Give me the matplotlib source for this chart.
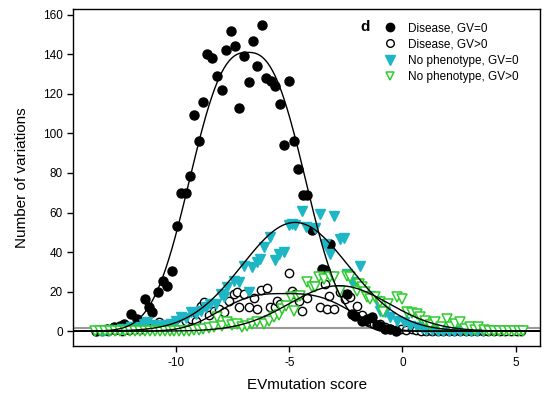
import matplotlib
matplotlib.use("Agg")
import matplotlib.pyplot as plt
from matplotlib.lines import Line2D
import numpy as np

plt.rcParams['font.family'] = ['Liberation Sans', 'DejaVu Sans']
plt.rcParams['axes.unicode_minus'] = False

# Disease, GV=0 (filled black circles)
dis0_x = [-13.55, -13.3, -13.05, -12.75, -12.5, -12.3, -11.99, -11.72, -11.4, -11.21,
          -11.06, -10.79, -10.59, -10.4, -10.2, -9.99, -9.78, -9.59, -9.4, -9.22,
          -9.0, -8.81, -8.63, -8.41, -8.22, -8.0, -7.79, -7.6, -7.41, -7.21,
          -7.02, -6.79, -6.62, -6.42, -6.2, -6.03, -5.81, -5.62, -5.43, -5.22,
          -5.01, -4.81, -4.61, -4.41, -4.22, -4.0, -3.56, -3.41, -3.19, -2.45,
          -2.23, -2.08, -1.8, -1.57, -1.35, -1.13, -0.98, -0.76, -0.54, -0.3]
dis0_y = [0, 0.5, 1, 2, 2.5, 3.5, 8.7, 6, 16.3, 12,
          9.5, 20, 25.6, 23, 30.3, 53, 70, 70, 78.3, 109.3,
          96, 116, 140, 138, 129, 122, 142, 152, 144, 113,
          139, 126, 147, 134, 155, 128, 126.5, 124, 115, 94,
          126.4, 96, 82, 69, 69, 51.3, 31.5, 30.7, 44, 18.9,
          8.7, 7.9, 5, 6.2, 7, 3, 2.8, 1, 1, 0]

# Disease, GV>0 (open circles)
dis1_x = [-13.3, -13.0, -12.7, -12.4, -12.1, -11.8, -11.5, -11.2, -10.97, -10.77,
          -10.5, -10.25, -10.0, -9.8, -9.59, -9.37, -9.15, -8.93, -8.78, -8.56,
          -8.34, -8.12, -7.9, -7.68, -7.46, -7.31, -7.24, -7.02, -6.79, -6.57,
          -6.42, -6.24, -5.98, -5.84, -5.62, -5.54, -5.4, -5.03, -4.88, -4.73,
          -4.59, -4.44, -4.22, -3.63, -3.41, -3.33, -3.26, -3.04, -2.75, -2.53,
          -2.31, -2.01, -1.79, -1.57, -1.42, -1.28, -0.98, -0.76, -0.54, -0.3,
          -0.08, 0.15, 0.4, 0.6, 0.8, 1.05, 1.3, 1.55, 1.8, 2.05,
          2.3, 2.55, 2.8, 3.05, 3.3, 3.55, 3.8, 4.05, 4.3, 4.55,
          4.8, 5.05, 5.25]
dis1_y = [0, 0, 0.5, 0, 0.5, 1, 1, 1.5, 2, 4.5,
          3, 3.5, 4, 3, 5, 6, 5, 12.9, 14.6, 8,
          10, 11, 9.5, 15.5, 18.9, 19.7, 12.1, 18.9, 12.1, 17,
          11.3, 21, 22, 12.1, 12.1, 15.5, 13.8, 29.3, 20.5, 18.9,
          15, 10.4, 17, 12.1, 23.9, 11.3, 18, 11.3, 19.7, 16.3,
          17.1, 12.9, 8, 5.3, 5.3, 3.6, 3.6, 1.9, 1, 0.5,
          1, 0.5, 1, 0.5, 0, 0, 0, 0, 0, 0,
          0, 0, 0, 0, 0, 0, 0, 0, 0, 0,
          0, 0, 0]

# No phenotype, GV=0 (filled cyan triangles)
np0_x = [-13.3, -13.0, -12.7, -12.4, -12.0, -11.7, -11.43, -11.28, -11.0, -10.75,
         -10.5, -10.25, -10.0, -9.81, -9.58, -9.37, -9.15, -8.93, -8.7, -8.49,
         -8.26, -8.04, -7.9, -7.75, -7.46, -7.24, -7.02, -6.79, -6.65, -6.42,
         -6.28, -6.13, -5.84, -5.62, -5.47, -5.25, -5.03, -4.88, -4.73, -4.44,
         -4.25, -3.85, -3.63, -3.41, -3.19, -3.04, -2.75, -2.6, -2.45, -2.23,
         -2.01, -1.86, -1.42, -1.13, -0.98, -0.76, -0.54, -0.24, 0.05, 0.34,
         0.64, 0.85, 1.05, 1.3, 1.55, 1.8, 2.05, 2.3, 2.55, 2.8,
         3.05, 3.3, 3.55]
np0_y = [0, 0.5, 0.5, 1, 1.9, 2, 3.6, 4.5, 3, 2,
         3, 3.7, 5, 7, 6.7, 9.5, 8.7, 10.4, 12, 13.8,
         13.8, 18.9, 17.1, 22.2, 25.6, 24.8, 33.2, 19.7, 32.4, 34.9,
         36.6, 42.5, 47.6, 35.8, 39, 40, 53.5, 54, 53.5, 61,
         52.5, 52, 59.4, 44.2, 39.1, 58, 46.8, 47.3, 29, 24.8,
         22.2, 33.2, 18, 15.5, 10.4, 9.5, 7, 5.3, 4.5, 2.8,
         1.9, 1.5, 0.5, 0.5, 0, 0, 0, 0, 0, 0,
         0, 0, 0]

# No phenotype, GV>0 (open green triangles)
np1_x = [-13.6, -13.38, -13.16, -12.94, -12.72, -12.5, -12.28, -12.06, -11.84, -11.62,
         -11.4, -11.18, -10.96, -10.74, -10.52, -10.3, -10.08, -9.86, -9.64, -9.42,
         -9.2, -9.0, -8.8, -8.56, -8.34, -8.19, -7.97, -7.75, -7.53, -7.31,
         -7.1, -6.87, -6.65, -6.43, -6.13, -5.91, -5.69, -5.47, -5.32, -5.17,
         -4.95, -4.81, -4.66, -4.51, -4.22, -4.0, -3.85, -3.7, -3.48, -3.19,
         -3.04, -2.75, -2.45, -2.31, -2.01, -1.94, -1.79, -1.64, -1.57, -1.42,
         -1.2, -0.98, -0.84, -0.62, -0.24, 0.0, 0.2, 0.42, 0.64, 0.79,
         1.0, 1.2, 1.45, 1.7, 1.96, 2.15, 2.33, 2.55, 2.77, 2.99,
         3.2, 3.36, 3.6, 3.82, 4.04, 4.26, 4.48, 4.7, 4.92, 5.14, 5.35]
np1_y = [0, 0, 0, 0, 0, 0, 0, 0, 0, 0,
         0, 0, 0, 0, 0, 0, 0, 0, 0, 0,
         0.5, 0.5, 1, 1.5, 2, 7, 2.5, 4.5, 3, 3.6,
         2, 2.8, 3.6, 4.5, 3.6, 5, 7, 8, 11.3, 12.9,
         17.1, 10.4, 17.1, 18, 24.8, 22.2, 22.2, 27.3, 26.5, 27.3,
         27.3, 20.5, 28.1, 27.6, 20.5, 23.9, 22.2, 19.7, 17.1, 16.3,
         17.1, 14.6, 9.5, 13.8, 17.1, 16.3, 9.5, 9, 8.7, 7,
         5, 3, 4.5, 2, 6.2, 2, 3.6, 4.5, 1, 1.9,
         0.5, 1.9, 0.5, 0, 0, 0, 0, 0, 0, 0, 0]

# fitted peak curves: (peak height, centre, width, shape exponent)
fit_dis0 = (141, -6.85, 3.1, 2.6)
fit_dis1 = (19, -5.2, 3.39, 3.0)
fit_np0 = (55, -4.75, 3.31, 2.0)
fit_np1 = (23, -2.8, 3.11, 2.0)

series_labels = ['Disease, GV=0', 'Disease, GV>0',
                 'No phenotype, GV=0', 'No phenotype, GV>0']
cyan = '#1db6c4'
green = '#2ecc2e'


def peak(x, a, x0, w, p):
    return a * np.exp(-(np.abs(x - x0) / w) ** p)


fig = plt.figure(figsize=(5.46, 4.03), dpi=100)
ax = fig.add_axes([0.134, 0.141, 0.855, 0.837])

ax.axhline(1.4, color='#999999', lw=1.5, zorder=1)

ax.plot(dis1_x, dis1_y, 'o', ms=6, mfc='white', mec='black', mew=1.0, zorder=3)
ax.plot(dis0_x, dis0_y, 'o', ms=6.5, mfc='black', mec='black', zorder=4)
ax.plot(np0_x, np0_y, 'v', ms=7, mfc=cyan, mec=cyan, zorder=5)
ax.plot(np1_x, np1_y, 'v', ms=6.5, mfc='white', mec=green, mew=1.1, zorder=6)

xs = np.linspace(-14.6, 6.1, 600)
for prm in (fit_dis0, fit_dis1, fit_np0, fit_np1):
    ax.plot(xs, peak(xs, *prm), color='black', lw=1.0, zorder=7)

ax.set_xlim(-14.56, 6.08)
ax.set_ylim(-7.6, 163)
ax.set_xticks([-10, -5, 0, 5])
ax.set_yticks(np.arange(0, 161, 20))
ax.tick_params(direction='out', length=4, width=1, labelsize=8.5, top=False, right=False)
for s in ax.spines.values():
    s.set_linewidth(1.0)
ax.set_xlabel('EVmutation score', fontsize=11, labelpad=7)
ax.set_ylabel('Number of variations', fontsize=11, labelpad=10)

handles = [
    Line2D([], [], ls='', marker='o', ms=6, mfc='black', mec='black'),
    Line2D([], [], ls='', marker='o', ms=5.5, mfc='white', mec='black', mew=1.0),
    Line2D([], [], ls='', marker='v', ms=6.5, mfc=cyan, mec=cyan),
    Line2D([], [], ls='', marker='v', ms=6, mfc='white', mec=green, mew=1.1),
]
ax.legend(handles, series_labels, loc='upper left', bbox_to_anchor=(0.655, 0.975),
          frameon=False, fontsize=8.5, handlelength=1.0, handletextpad=1.1,
          labelspacing=0.38, borderaxespad=0)
ax.text(0.625, 0.945, 'd', transform=ax.transAxes, fontsize=11, fontweight='bold',
        ha='center', va='center')

fig.savefig('out.png', dpi=100)
